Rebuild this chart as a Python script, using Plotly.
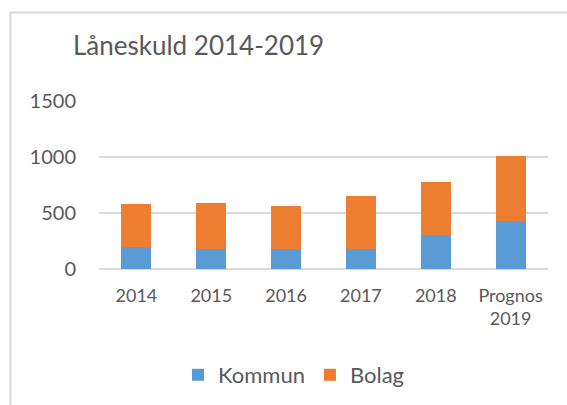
import plotly.graph_objects as go

categories = ["2014", "2015", "2016", "2017", "2018", "Prognos<br>2019"]
kommun = [193, 178, 178, 178, 305, 430]
bolag = [391, 412, 388, 474, 475, 578]
y_ticks = [0, 500, 1000, 1500]

W, H = 567, 405
L, R, T, B = 99, 19, 101, 136
pw = W - L - R
ph = H - T - B

def px_x(x):
    return (x - L) / pw

def px_y(y):
    return (H - B - y) / ph

font_family = "Lato, 'Open Sans', sans-serif"
txt = "#595959"

fig = go.Figure()
fig.add_trace(go.Bar(x=categories, y=kommun, name="Kommun",
                     marker=dict(color="#5B9BD5", line=dict(width=0))))
fig.add_trace(go.Bar(x=categories, y=bolag, name="Bolag",
                     marker=dict(color="#ED7D31", line=dict(width=0))))

fig.update_layout(
    width=W, height=H,
    barmode="stack", bargap=0.6,
    margin=dict(l=L, r=R, t=T, b=B, autoexpand=False),
    paper_bgcolor="white", plot_bgcolor="white",
    font=dict(family=font_family, color=txt),
    title=dict(text="Låneskuld 2014-2019", x=73 / W, xref="container", xanchor="left",
               y=1 - 46 / H, yref="container", yanchor="middle",
               font=dict(size=26, color=txt, family=font_family)),
    showlegend=True,
    legend=dict(orientation="h", x=px_x(294), y=px_y(375), xanchor="center", yanchor="middle",
                font=dict(size=22, color=txt), traceorder="normal", itemwidth=30,
                bgcolor="rgba(0,0,0,0)"),
    xaxis=dict(showline=False, showgrid=False, ticks="", tickfont=dict(size=18, color=txt),
               ticklabelstandoff=14, fixedrange=True),
    yaxis=dict(range=[0, 1500], tickvals=y_ticks, showgrid=True, gridcolor="#D9D9D9", gridwidth=1.5,
               zeroline=True, zerolinecolor="#D9D9D9", zerolinewidth=1.5, showline=False,
               ticks="", tickfont=dict(size=20, color=txt), ticklabelstandoff=22),
    shapes=[dict(type="rect", xref="paper", yref="paper",
                 x0=px_x(10.5), x1=px_x(600), y0=px_y(440), y1=px_y(12.5),
                 line=dict(color="#D9D9D9", width=2), fillcolor="rgba(0,0,0,0)", layer="below")],
)

fig.write_html("out.html", config={"displayModeBar": False},
               post_script="document.body.style.margin='0';")
